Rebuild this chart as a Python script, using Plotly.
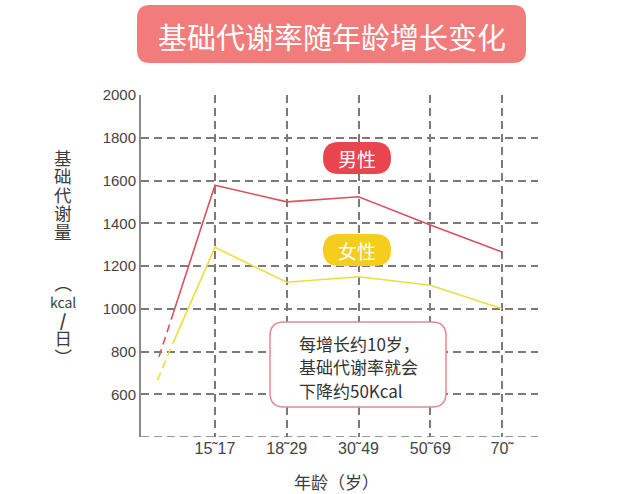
import plotly.graph_objects as go

# ---- data ----
categories = ["15˜17", "18˜29", "30˜49", "50˜69", "70˜"]
male = [1578, 1500, 1524, 1392, 1265]
female = [1287, 1124, 1150, 1110, 1000]
# extrapolated lead-in (dashed then solid) toward childhood
lead_x = [-0.78, -0.58]
male_lead = [775, 980]
female_lead_x = [-0.80, -0.58]
female_lead = [667, 843]
y_ticks = [600, 800, 1000, 1200, 1400, 1600, 1800, 2000]

W, H = 640, 494
L, R, T, B = 141, 102, 95, 57
pw, ph = W - L - R, H - T - B

def px(x):
    return (x - L) / pw

def py(y):
    return (H - B - y) / ph

def rrect(x0, y0, x1, y1, r):
    def P(x, y):
        return f"{px(x):.5f},{py(y):.5f}"
    s = (f"M {P(x0 + r, y0)} L {P(x1 - r, y0)} Q {P(x1, y0)} {P(x1, y0 + r)} "
         f"L {P(x1, y1 - r)} Q {P(x1, y1)} {P(x1 - r, y1)} "
         f"L {P(x0 + r, y1)} Q {P(x0, y1)} {P(x0, y1 - r)} "
         f"L {P(x0, y0 + r)} Q {P(x0, y0)} {P(x0 + r, y0)} Z")
    return s

MALE_C = "#d9535f"
FEM_C = "#e9df3c"
GRID = "#7a7a7a"
CJK = "Noto Sans CJK SC"

xpos = list(range(len(categories)))

fig = go.Figure()
fig.add_trace(go.Scatter(x=lead_x, y=male_lead, mode="lines",
                         line=dict(color=MALE_C, width=1.6, dash="8px,5px"), showlegend=False))
fig.add_trace(go.Scatter(x=[lead_x[-1]] + xpos, y=[male_lead[-1]] + male, mode="lines",
                         line=dict(color=MALE_C, width=1.6), showlegend=False))
fig.add_trace(go.Scatter(x=female_lead_x, y=female_lead, mode="lines",
                         line=dict(color=FEM_C, width=1.6, dash="8px,5px"), showlegend=False))
fig.add_trace(go.Scatter(x=[female_lead_x[-1]] + xpos, y=[female_lead[-1]] + female, mode="lines",
                         line=dict(color=FEM_C, width=1.6), showlegend=False))

shapes = []
shapes.append(dict(type="line", xref="paper", yref="y", x0=0, x1=1, y0=400, y1=400,
                   line=dict(color=GRID, width=1.5, dash="8px,5px"), layer="below"))
shapes.append(dict(type="path", xref="paper", yref="paper", path=rrect(137, 5, 526, 63, 13),
                   fillcolor="#f27c7c", line=dict(width=0), layer="above"))
shapes.append(dict(type="path", xref="paper", yref="paper", path=rrect(323, 142, 391, 174, 16),
                   fillcolor="#e8454f", line=dict(width=0), layer="above"))
shapes.append(dict(type="path", xref="paper", yref="paper", path=rrect(323, 234, 391, 266, 16),
                   fillcolor="#f5cd1c", line=dict(width=0), layer="above"))
shapes.append(dict(type="path", xref="paper", yref="paper", path=rrect(270, 322, 446, 407, 14),
                   fillcolor="white", line=dict(color="#e08a94", width=1.5), layer="above"))

ann = []
def A(text, x, y, size, color="#3c3c3c", family=CJK, xanchor="center", angle=0):
    ann.append(dict(text=text, x=px(x), y=py(y), xref="paper", yref="paper",
                    xanchor=xanchor, yanchor="middle", showarrow=False, textangle=angle,
                    font=dict(family=family, size=size, color=color)))

A("基础代谢率随年龄增长变化", 332, 36, 29, "white")
A("男性", 357, 158, 19, "white")
A("女性", 357, 250, 19, "white")
note_lines = ["每增长约10岁，", "基础代谢率就会", "下降约50Kcal"]
for i, t in enumerate(note_lines):
    A(t, 297, 343 + i * 23.5, 17, "#333", xanchor="left")

# vertical y-axis title: two stacked blocks (line spacing = 1.3 x base size)
big = "<span style='font-size:17.5px'>{}</span>"
block1 = "<br>".join(big.format(c) for c in "基础代谢量")
A(block1, 63, 194, 14.2)
block2 = "<br>".join([big.format("︵"),
                      "<span style='font-size:14px'>kcal</span>",
                      "<span style='font-size:17px'><b>/</b></span>",
                      big.format("日"),
                      big.format("︶")])
A(block2, 63, 319, 14.2)
A("年龄（岁）", 336, 481, 17)

fig.update_layout(
    width=W, height=H,
    margin=dict(l=L, r=R, t=T, b=B, pad=0),
    paper_bgcolor="white", plot_bgcolor="white",
    shapes=shapes, annotations=ann,
    xaxis=dict(range=[-1.03, 4.5], tickmode="array", tickvals=xpos, ticktext=categories,
               showgrid=True, gridcolor=GRID, gridwidth=1.5, griddash="8px,5px",
               zeroline=False, showline=False, ticks="",
               tickfont=dict(family="Liberation Sans", size=16, color="#444")),
    yaxis=dict(range=[400, 2000], tickmode="array", tickvals=y_ticks,
               ticktext=[str(v) for v in y_ticks],
               showgrid=True, gridcolor=GRID, gridwidth=1.5, griddash="8px,5px",
               zeroline=False, showline=True, linecolor="#8a8a8a", linewidth=2, ticks="",
               tickfont=dict(family="Liberation Sans", size=15, color="#444")),
)

fig.write_html("out.html")
